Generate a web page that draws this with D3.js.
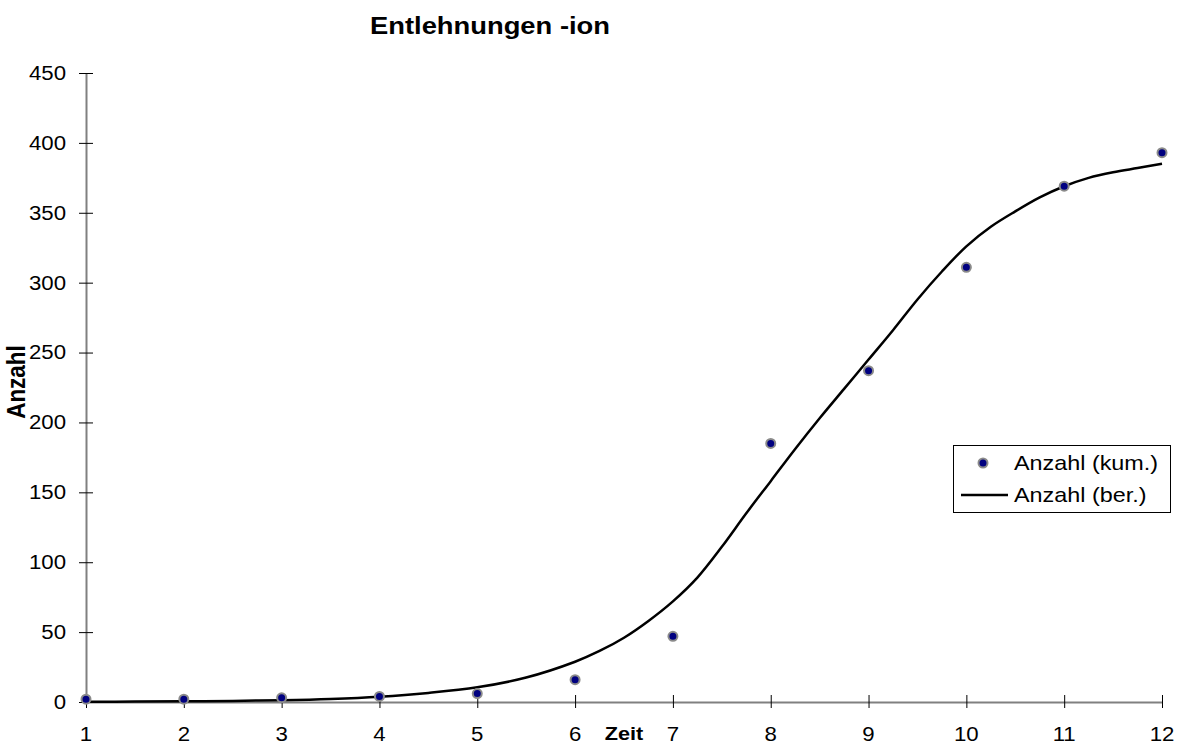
<!DOCTYPE html>
<html>
<head>
<meta charset="utf-8">
<script src="https://cdn.jsdelivr.net/npm/d3@7/dist/d3.min.js"></script>
<style>
  html, body { margin: 0; padding: 0; background: #fff; }
  svg { display: block; }
  text { font-family: "Liberation Sans", Arial, sans-serif; fill: #000; }
</style>
</head>
<body>
<svg id="chart" width="1178" height="744"></svg>
<script>
// Zeitpunkte und kumulierte Anzahl der Entlehnungen
const zeit = [1, 2, 3, 4, 5, 6, 7, 8, 9, 10, 11, 12];
const anzahlKum = [2, 2, 3, 4, 6, 16, 47, 185, 237, 311, 369, 393];

// Berechnete (angepasste) Kurve
const berZeit = [1, 1.5, 2, 2.5, 3, 3.5, 4, 4.5, 5, 5.5, 6, 6.25, 6.5, 6.75, 7, 7.25, 7.5,
                 7.75, 8, 8.25, 8.5, 8.75, 9, 9.25, 9.5, 9.75, 10, 10.25, 10.5, 10.75,
                 11, 11.25, 11.5, 11.75, 12];
const anzahlBer = [0.2, 0.3, 0.5, 0.8, 1.3, 2.2, 3.8, 6.5, 10.5, 17.5, 28.8, 36.5, 46, 58,
                   72, 89, 111, 135, 158, 181, 203, 224, 245, 266, 288, 308, 326, 340,
                   351, 361, 369, 375, 379, 382, 385];

const xTicks = [1, 2, 3, 4, 5, 6, 7, 8, 9, 10, 11, 12];
const yTicks = [0, 50, 100, 150, 200, 250, 300, 350, 400, 450];

const titel = "Entlehnungen -ion";
const xTitel = "Zeit";
const yTitel = "Anzahl";
const legendNamen = ["Anzahl (kum.)", "Anzahl (ber.)"];

const svg = d3.select("#chart");
const SX = 1.14; // horizontal text stretch

const x = d3.scaleLinear().domain([1, 12]).range([86, 1162]);
const y = d3.scaleLinear().domain([0, 450]).range([702, 73]);

function label(g, tx, ty, str, opts = {}) {
  const t = g.append("text")
    .attr("transform", `translate(${tx},${ty}) scale(${SX},1)` + (opts.rotate ? ` rotate(${opts.rotate})` : ""))
    .attr("text-anchor", opts.anchor || "start")
    .style("font-size", (opts.size || 19.5) + "px")
    .style("font-weight", opts.bold ? "bold" : "normal")
    .text(str);
  if (opts.dy) t.attr("dy", opts.dy);
  return t;
}

// Y-Achse
const yAxis = svg.append("g").attr("transform", `translate(${x(1)},0)`)
  .call(d3.axisLeft(y).tickValues(yTicks).tickFormat("").tickSizeOuter(0));
yAxis.select(".domain").attr("stroke", "#808080").attr("stroke-width", 2);
yAxis.selectAll(".tick line").attr("x1", -7).attr("x2", 7).attr("stroke", "#000").attr("stroke-width", 1);

// X-Achse
const xAxis = svg.append("g").attr("transform", `translate(0,${y(0)})`)
  .call(d3.axisBottom(x).tickValues(xTicks).tickFormat("").tickSizeOuter(0));
xAxis.select(".domain").attr("stroke", "#808080").attr("stroke-width", 2);
xAxis.selectAll(".tick line").attr("y1", -7).attr("y2", 6).attr("stroke", "#000").attr("stroke-width", 1);

// Achsenbeschriftungen
const lab = svg.append("g");
yTicks.forEach(v => label(lab, 66, y(v), String(v), { anchor: "end", dy: "0.35em" }));
xTicks.forEach(v => label(lab, x(v), 741, String(v), { anchor: "middle" }));

// Titel
label(lab, 490, 34, titel, { anchor: "middle", bold: true, size: 24 });
label(lab, 624, 740, xTitel, { anchor: "middle", bold: true, size: 19 });
label(lab, 25, 382, yTitel, { anchor: "middle", bold: true, size: 22.5, rotate: -90 });

// Berechnete Kurve
const line = d3.line()
  .x((d, i) => x(berZeit[i]))
  .y(d => y(d))
  .curve(d3.curveCatmullRom.alpha(0.5));
svg.append("path")
  .datum(anzahlBer)
  .attr("d", line)
  .attr("fill", "none")
  .attr("stroke", "#000")
  .attr("stroke-width", 2.5)
  .attr("stroke-linejoin", "round");

// Beobachtete Werte
svg.append("g").selectAll("circle")
  .data(anzahlKum)
  .join("circle")
  .attr("cx", (d, i) => x(zeit[i]))
  .attr("cy", d => y(d))
  .attr("r", 4.5)
  .attr("fill", "#000080")
  .attr("stroke", "#8a8a8a")
  .attr("stroke-width", 2);

// Legende
const leg = svg.append("g");
leg.append("rect")
  .attr("x", 953.5).attr("y", 445.5).attr("width", 217).attr("height", 67)
  .attr("fill", "#fff").attr("stroke", "#000").attr("stroke-width", 1);
leg.append("circle")
  .attr("cx", 983).attr("cy", 463).attr("r", 4.5)
  .attr("fill", "#000080").attr("stroke", "#8a8a8a").attr("stroke-width", 2);
leg.append("line")
  .attr("x1", 961).attr("x2", 1008).attr("y1", 495).attr("y2", 495)
  .attr("stroke", "#000").attr("stroke-width", 2.5);
label(leg, 1014, 463, legendNamen[0], { size: 20.5, dy: "0.35em" });
label(leg, 1014, 495, legendNamen[1], { size: 20.5, dy: "0.35em" });
</script>
</body>
</html>
